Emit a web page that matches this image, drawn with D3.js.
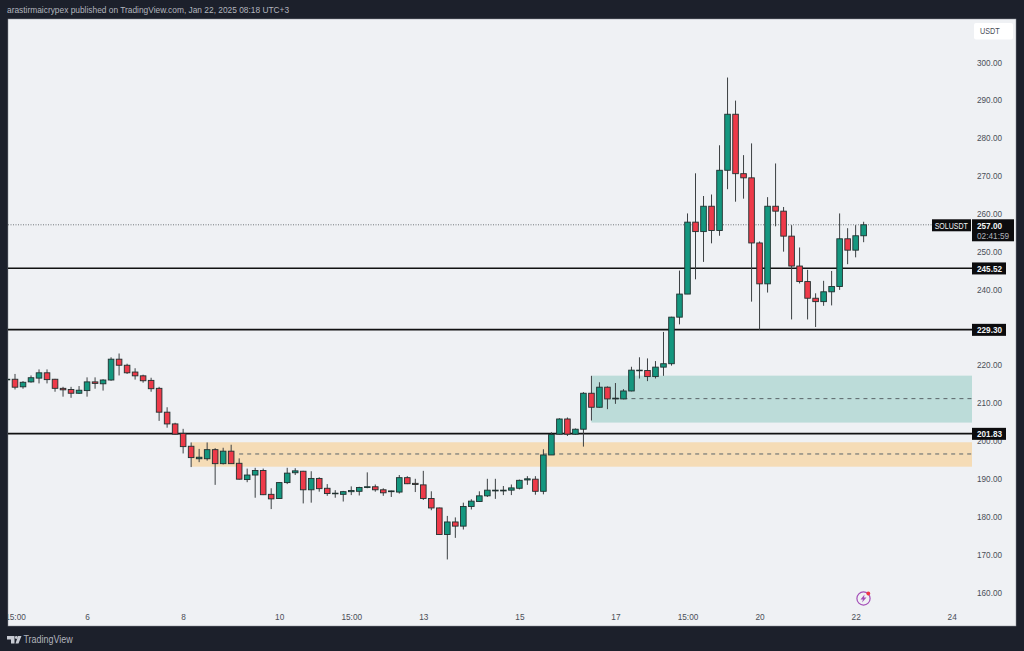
<!DOCTYPE html>
<html>
<head>
<meta charset="utf-8">
<script src="https://cdn.jsdelivr.net/npm/d3@7"></script>
<style>
  html, body { margin: 0; padding: 0; background: #1c202b; overflow: hidden; }
  svg { display: block; }
  text { font-family: "Liberation Sans", Arial, sans-serif; }
  .axis text { fill: #4a4e57; font-size: 9.5px; }
  .axis path, .axis line { display: none; }
</style>
</head>
<body>
<div id="chart"></div>
<script>
// 4h candles. first one is cut by the left edge
const opens = [216.1,216.2,214.2,215.5,216.5,217.9,216.2,213.8,213.5,212.5,213.2,215.5,215.0,216.0,221.5,219.9,218.1,217.1,215.9,213.8,207.5,204.4,201.9,198.5,195.2,195.2,197.6,193.9,197.2,194.0,189.7,190.9,192.1,185.8,184.7,188.9,191.5,191.9,187.0,190.0,187.4,186.1,185.8,186.5,186.6,187.6,187.8,187.0,186.5,186.4,190.2,188.7,188.3,184.7,182.2,175.2,178.5,177.4,182.6,183.9,185.4,186.7,186.7,186.9,187.4,189.6,189.8,186.6,196.2,201.7,205.7,201.7,203.0,212.5,208.8,214.1,211.0,211.0,213.1,218.5,218.5,216.9,219.4,220.3,232.6,238.7,257.7,255.2,261.9,255.5,271.4,286.2,270.5,269.4,252.2,241.4,261.9,260.6,254.0,246.1,242.0,237.6,236.7,239.3,240.7,253.3,250.3,254.1];
const highs = [216.5,217.6,215.7,217.2,218.8,218.8,216.3,214.2,214.2,214.4,216.7,216.7,216.2,222.0,223.0,220.3,219.1,217.4,216.6,214.2,208.8,204.7,203.1,199.5,197.8,199.5,198.0,198.1,198.9,195.3,192.6,192.8,192.6,187.4,189.0,192.8,192.7,192.0,191.9,190.3,188.5,186.9,186.7,187.9,187.8,191.6,188.4,187.4,186.8,190.9,190.6,189.9,192.0,186.6,182.3,180.1,179.7,183.6,184.5,186.6,189.9,189.9,188.0,188.4,189.7,190.6,190.6,197.7,202.2,205.9,206.1,203.2,212.8,217.1,215.4,214.3,215.2,213.6,219.5,222.0,221.7,221.0,228.7,232.7,244.9,260.0,270.6,264.6,265.0,278.0,295.9,289.8,275.4,278.5,252.6,264.3,273.2,261.7,256.9,251.0,245.1,238.9,242.2,244.8,260.0,256.1,256.9,257.8];
const lows = [216.0,213.5,213.7,215.3,215.1,215.1,212.9,211.6,211.3,212.3,211.6,213.7,213.2,215.8,217.2,217.6,216.1,215.3,212.9,205.2,203.4,201.6,196.6,193.0,194.3,194.7,188.3,193.7,193.9,189.7,189.0,184.9,185.6,181.9,184.7,188.5,190.9,183.4,183.6,186.5,185.4,184.9,183.9,185.6,185.5,187.4,186.5,185.4,185.1,186.0,188.5,186.4,184.3,181.6,175.2,168.6,174.3,176.5,181.8,183.8,185.1,184.6,185.6,185.6,187.1,188.3,185.7,185.8,196.2,201.6,201.2,201.5,198.4,205.3,208.7,208.3,209.7,210.9,213.0,216.4,215.7,216.4,217.1,219.8,230.7,238.7,242.6,247.2,252.1,254.1,266.4,263.1,263.9,236.7,229.2,239.1,256.6,249.9,232.0,241.5,232.0,230.0,235.6,235.7,239.8,246.6,248.4,252.4];
const closes = [216.2,214.1,215.4,216.6,217.9,216.1,213.8,213.4,212.5,213.3,215.5,215.1,216.0,221.5,219.9,217.9,217.1,215.8,213.7,207.5,204.4,201.7,198.4,195.5,195.6,197.6,193.9,197.2,193.9,189.8,190.9,192.1,185.7,184.6,188.9,191.4,192.0,187.0,190.0,187.3,186.0,186.0,186.5,186.8,187.6,187.8,187.0,186.2,186.7,190.2,188.6,188.4,184.7,182.2,175.2,178.5,177.4,182.6,184.0,185.4,186.9,186.9,186.9,187.5,189.5,189.9,186.6,196.2,201.6,205.7,201.7,203.0,212.5,208.8,214.1,211.0,211.2,213.1,218.6,218.6,216.9,219.4,220.3,232.6,238.7,257.7,255.2,261.9,255.5,271.4,286.2,270.5,269.4,252.2,241.4,261.9,260.6,254.0,246.1,242.0,237.6,236.7,239.3,240.7,253.3,250.3,254.1,257.0];

// 230.00 sits under the 229.30 tag in the original, so it is left out
const priceTicks = [160,170,180,190,200,210,220,240,250,260,270,280,290,300];
const timeTickIndex = [1,10,22,34,43,52,64,76,85,94,106,118];
const timeTickLabels = ["15:00","6","8","10","15:00","13","15","17","15:00","20","22","24"];

const levels = [245.52, 229.30, 201.83];
const lastPrice = 257.00;
const countdown = "02:41:59";
const symbol = "SOLUSDT";
const currency = "USDT";
const headerText = "arastirmaicrypex published on TradingView.com, Jan 22, 2025 08:18 UTC+3";
const footerText = "TradingView";

// zones: [low, mid, high, index where zone starts, index where dashes start]
const greenZone = [204.75, 211.08, 217.15, 73, 76];
const orangeZone = [193.1, 196.46, 199.55, 23, 29];

const width = 1024, height = 651;
const panel = { left: 8, top: 19, right: 1016, bottom: 626 };
const axisLeft = 972;

const col = {
  bg: "#1c202b", panel: "#eff1f4", up: "#14977f", down: "#ee3a49",
  border: "#20302f", wick: "#3c4043", line: "#111111",
  green: "#bcdcd9", orange: "#f5dcb6", dash: "#5a6468"
};

// original font is narrower than anything installed
function squeeze(sel, k) {
  sel.each(function() {
    const len = this.getComputedTextLength();
    d3.select(this)
      .attr("textLength", len * k)
      .attr("lengthAdjust", "spacingAndGlyphs");
  });
}

const svg = d3.select("#chart").append("svg")
  .attr("width", width)
  .attr("height", height);

svg.append("rect")
  .attr("width", width)
  .attr("height", height)
  .attr("fill", col.bg);

svg.append("rect")
  .attr("x", panel.left)
  .attr("y", panel.top)
  .attr("width", panel.right - panel.left)
  .attr("height", panel.bottom - panel.top)
  .attr("fill", col.panel)
  .attr("stroke", "#8a8e96")
  .attr("stroke-width", 0.5);

svg.append("clipPath").attr("id", "clip")
  .append("rect")
  .attr("x", panel.left)
  .attr("y", panel.top)
  .attr("width", axisLeft - panel.left)
  .attr("height", panel.bottom - panel.top);

const x = d3.scaleLinear().domain([0, 118]).range([7, 951.7]);
const y = d3.scaleLinear().domain([300, 160]).range([62, 592]);

const plot = svg.append("g").attr("clip-path", "url(#clip)");

// zones
[[greenZone, col.green], [orangeZone, col.orange]].forEach(([z, c]) => {
  plot.append("rect")
    .attr("x", x(z[3]))
    .attr("y", y(z[2]))
    .attr("width", axisLeft - x(z[3]))
    .attr("height", y(z[0]) - y(z[2]))
    .attr("fill", c);
  plot.append("line")
    .attr("x1", x(z[4]))
    .attr("x2", axisLeft)
    .attr("y1", y(z[1]))
    .attr("y2", y(z[1]))
    .attr("stroke", col.dash)
    .attr("stroke-width", 1)
    .attr("stroke-dasharray", "4,4");
});

// levels
plot.selectAll(".level")
  .data(levels)
  .enter().append("line")
  .attr("class", "level")
  .attr("x1", panel.left)
  .attr("x2", axisLeft)
  .attr("y1", d => y(d))
  .attr("y2", d => y(d))
  .attr("stroke", col.line)
  .attr("stroke-width", 1.6);

// last price dotted line
plot.append("line")
  .attr("x1", panel.left)
  .attr("x2", 932)
  .attr("y1", y(lastPrice))
  .attr("y2", y(lastPrice))
  .attr("stroke", "#555a60")
  .attr("stroke-width", 0.8)
  .attr("stroke-dasharray", "1,1.5");

// candles
const idx = d3.range(opens.length);

plot.selectAll(".wick")
  .data(idx)
  .enter().append("line")
  .attr("class", "wick")
  .attr("x1", i => x(i))
  .attr("x2", i => x(i))
  .attr("y1", i => y(highs[i]))
  .attr("y2", i => y(lows[i]))
  .attr("stroke", col.wick)
  .attr("stroke-width", 1);

plot.selectAll(".body")
  .data(idx)
  .enter().append("rect")
  .attr("class", "body")
  .attr("x", i => x(i) - 2.8)
  .attr("width", 5.6)
  .attr("y", i => y(Math.max(opens[i], closes[i])))
  .attr("height", i => Math.max(0.6, Math.abs(y(opens[i]) - y(closes[i]))))
  .attr("fill", i => closes[i] >= opens[i] ? col.up : col.down)
  .attr("stroke", col.border)
  .attr("stroke-width", 0.9);

// axes
const priceAxis = d3.axisRight(y)
  .tickValues(priceTicks)
  .tickSize(0)
  .tickPadding(5)
  .tickFormat(d => d.toFixed(2));

const priceG = svg.append("g")
  .attr("class", "axis")
  .attr("transform", "translate(972,0)")
  .call(priceAxis);
squeeze(priceG.selectAll("text"), 0.86);

const timeAxis = d3.axisBottom(x)
  .tickValues(timeTickIndex)
  .tickSize(0)
  .tickPadding(0)
  .tickFormat((d, i) => timeTickLabels[i]);

const timeG = svg.append("g")
  .attr("clip-path", "url(#clip)")
  .append("g")
  .attr("class", "axis")
  .attr("transform", "translate(0,613)")
  .call(timeAxis);
squeeze(timeG.selectAll("text"), 0.87);

// price tags on the right
levels.forEach(v => {
  svg.append("rect")
    .attr("x", axisLeft)
    .attr("y", y(v) - 5.8)
    .attr("width", 34)
    .attr("height", 12)
    .attr("fill", "#0c0c0e");
  svg.append("text")
    .attr("x", axisLeft + 5)
    .attr("y", y(v) + 3.6)
    .attr("fill", "#f0f3f5")
    .attr("font-size", 9.5)
    .attr("font-weight", "bold")
    .text(v.toFixed(2))
    .call(squeeze, 0.86);
});

svg.append("rect")
  .attr("x", axisLeft)
  .attr("y", y(lastPrice) - 5.5)
  .attr("width", 42)
  .attr("height", 22)
  .attr("fill", "#0c0c0e");
svg.append("text")
  .attr("x", axisLeft + 5)
  .attr("y", y(lastPrice) + 4)
  .attr("fill", "#f0f3f5")
  .attr("font-size", 9.5)
  .attr("font-weight", "bold")
  .text(lastPrice.toFixed(2))
  .call(squeeze, 0.86);
svg.append("text")
  .attr("x", axisLeft + 5)
  .attr("y", y(lastPrice) + 14)
  .attr("fill", "#aeb2ba")
  .attr("font-size", 9.5)
  .text(countdown)
  .call(squeeze, 0.87);

svg.append("rect")
  .attr("x", 932)
  .attr("y", y(lastPrice) - 5.5)
  .attr("width", 39)
  .attr("height", 12)
  .attr("fill", "#0c0c0e");
svg.append("text")
  .attr("x", 934.7)
  .attr("y", y(lastPrice) + 3.8)
  .attr("fill", "#f0f3f5")
  .attr("font-size", 9)
  .text(symbol)
  .call(squeeze, 0.78);

// currency box
svg.append("rect")
  .attr("x", 974)
  .attr("y", 23)
  .attr("width", 39)
  .attr("height", 16.5)
  .attr("rx", 2)
  .attr("fill", "#ffffff");
svg.append("text")
  .attr("x", 980)
  .attr("y", 34.3)
  .attr("fill", "#4a4e57")
  .attr("font-size", 9)
  .text(currency)
  .call(squeeze, 0.8);

// header + footer
svg.append("text")
  .attr("x", 7)
  .attr("y", 13)
  .attr("fill", "#b2b5be")
  .attr("font-size", 9.5)
  .text(headerText)
  .call(squeeze, 0.88);

svg.append("path")
  .attr("d", "M7 636h7.5v7.5h-3.5v-4H7z M18 636l-2.5 7.5h3l3-7.5z")
  .attr("fill", "#c8cbd3");
svg.append("circle")
  .attr("cx", 16.3)
  .attr("cy", 637.5)
  .attr("r", 1.4)
  .attr("fill", "#c8cbd3");
svg.append("text")
  .attr("x", 23.5)
  .attr("y", 643)
  .attr("fill", "#b2b5be")
  .attr("font-size", 10.5)
  .text(footerText)
  .call(squeeze, 0.85);

// little lightning icon near the last bar
const icon = svg.append("g").attr("transform", "translate(863.5,598.5)");
icon.append("circle")
  .attr("r", 6.6)
  .attr("fill", "none")
  .attr("stroke", "#a44fb8")
  .attr("stroke-width", 1.2);
icon.append("path")
  .attr("d", "M1-4L-3 1H-.5L-1.5 4L3-1H.5z")
  .attr("fill", "#a44fb8");
icon.append("circle")
  .attr("cx", 4.8)
  .attr("cy", -5)
  .attr("r", 1.9)
  .attr("fill", "#f23645");
</script>
</body>
</html>
